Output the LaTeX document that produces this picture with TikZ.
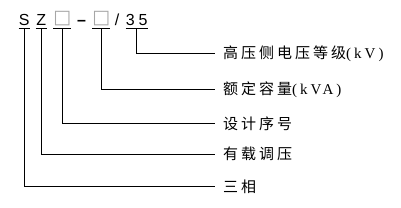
\documentclass[tikz,border=0pt]{standalone}
\usepackage{fontspec}
\setmainfont{Liberation Serif}
\newfontfamily\cjk[LetterSpace=20]{Noto Sans CJK SC}
\newfontfamily\latin[LetterSpace=20]{Liberation Serif}
\newfontfamily\codefont{Liberation Sans}
\newfontfamily\symfont{DejaVu Sans}
\newcommand{\boxsym}{\raisebox{1.5pt}{\symfont\fontsize{19}{20}\selectfont\color{black!35}□}}
\tikzset{
  code/.style = {font=\codefont\fontsize{16}{18}\selectfont, inner xsep=0pt, inner ysep=3.3pt,
                 minimum width=11pt, text depth=0pt, anchor=base},
  lab/.style  = {font=\fontsize{15}{18}\selectfont, anchor=west, inner xsep=8pt, inner ysep=1pt},
  lead/.style = {line width=0.9pt}
}
\begin{document}
\begin{tikzpicture}[x=1pt, y=-1pt]
    \useasboundingbox (0,0) rectangle (401,207);

    % Type code
    \foreach \name/\x/\txt in {cS/24.3/S, cZ/41.3/Z, cA/62.3/{\boxsym}, cB/101.3/{\boxsym}, c35/136.7/{3\hspace{4pt}5}}
      \node[code] (\name) at (\x, 25) {\txt};
    \node[code, minimum width=0pt] (cD) at (81.5, 25) {\textbf{–}};
    \node[code, minimum width=0pt] (cSl) at (117, 25) {/};

    % Meanings
    \foreach \name/\y/\txt in {lV/53.3/{{\cjk 高压侧电压等级}{\latin(kV)}}, lP/89.3/{{\cjk 额定容量}{\latin(kVA)}},
                               lD/123.3/{\cjk 设计序号}, lT/154/{\cjk 有载调压}, lX/186.3/{\cjk 三相}}
      \node[lab] (\name) at (215, \y) {\txt};

    % Leaders
    \foreach \c/\l in {cS/lX, cZ/lT, cA/lD, cB/lP, c35/lV} {
      \draw[lead] (\c.south west) -- (\c.south east);
      \draw[lead] (\c.south) |- (\l.west);
    }
\end{tikzpicture}
\end{document}
